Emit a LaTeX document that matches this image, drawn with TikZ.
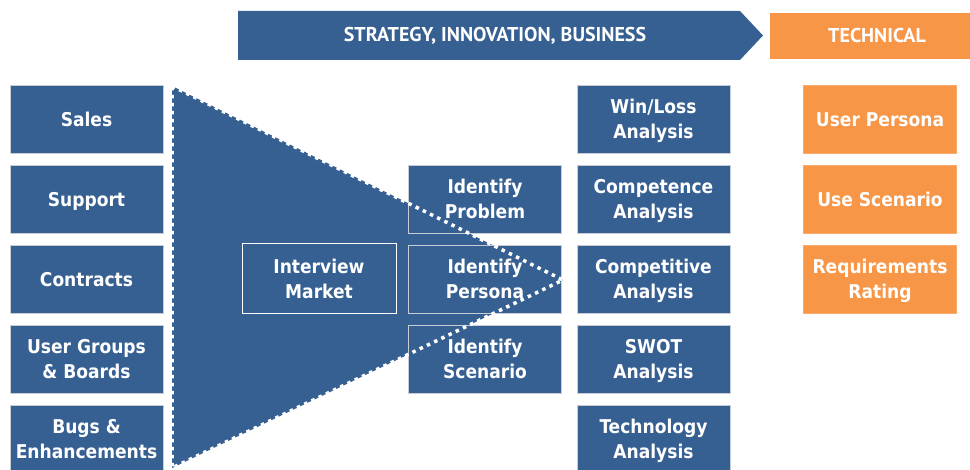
\documentclass[tikz,border=0pt]{standalone}
\usepackage{fontspec}
\setmainfont{DejaVu Sans Condensed}
\newfontfamily\bannerfont{PT Sans}
\definecolor{myblue}{HTML}{376092}
\definecolor{myorange}{HTML}{F79646}
\definecolor{boxborder}{HTML}{C8CCD4}
\newcommand\bxstrut{\rule[-0.25em]{0pt}{1.24em}}
\tikzset{
  box/.style={draw=boxborder, fill=myblue, text=white, line width=0.8,
    font=\bfseries\fontsize{19}{25}\selectfont, align=center, inner sep=0pt,
    minimum width=153, minimum height=68,
    execute at end node=\bxstrut},
  obox/.style={box, fill=myorange, draw=myorange!80!white},
  wbox/.style={box, draw=white, line width=1},
  dotline/.style={draw=white, line width=3.5, dash pattern=on 3.5 off 4.5},
  bannertext/.style={text=white, font=\bannerfont\bfseries\fontsize{20}{24}\selectfont}
}
\begin{document}
\begin{tikzpicture}[x=1pt,y=-1pt]
\clip (0,0) rectangle (970,470);
\fill[white] (0,0) rectangle (970,470);
% banner
\fill[myblue] (238,11) -- (740,11) -- (763,35.5) -- (740,60) -- (238,60) -- cycle;
\node[bannertext] (strat) at (495,36) {STRATEGY, INNOVATION, BUSINESS};
\fill[myorange] (770,13) rectangle (984,59);
\node[bannertext] (tech) at (877,36) {TECHNICAL};
% funnel
\coordinate (ftl) at (172,86);
\coordinate (ftip) at (563,280);
\coordinate (fbl) at (172,468);
\fill[myblue] (ftl) -- (ftip) -- (fbl) -- cycle;
% left column
\node[box] (sales) at (86.5,119) {\bxstrut Sales};
\node[box] (support) at (86.5,199) {\bxstrut Support};
\node[box] (contracts) at (86.5,279) {\bxstrut Contracts};
\node[box] (usergroups) at (86.5,359) {\bxstrut User Groups\\\& Boards};
\node[box, minimum height=67] (bugs) at (86.5,438.5) {\bxstrut Bugs \&\\Enhancements};
% middle
\node[wbox, minimum width=154, minimum height=70] (interview) at (319,279) {\bxstrut Interview\\Market};
\node[box] (problem) at (485,199) {\bxstrut Identify\\Problem};
\node[box] (persona) at (485,279) {\bxstrut Identify\\Persona};
\node[box] (scenario) at (485,359) {\bxstrut Identify\\Scenario};
% right column
\node[box] (winloss) at (653.5,119) {\bxstrut Win/Loss\\Analysis};
\node[box] (competence) at (653.5,199) {\bxstrut Competence\\Analysis};
\node[box] (competitive) at (653.5,279) {\bxstrut Competitive\\Analysis};
\node[box] (swot) at (653.5,359) {\bxstrut SWOT\\Analysis};
\node[box, minimum height=67] (technology) at (653.5,438.5) {\bxstrut Technology\\Analysis};
% orange column
\node[obox] (userpersona) at (880,119) {\bxstrut User Persona};
\node[obox] (usescenario) at (880,199) {\bxstrut Use Scenario};
\node[obox] (reqrating) at (880,279) {\bxstrut Requirements\\Rating};
% funnel outline
\draw[dotline] (ftl) -- (ftip) -- (fbl) -- cycle;
\end{tikzpicture}
\end{document}
